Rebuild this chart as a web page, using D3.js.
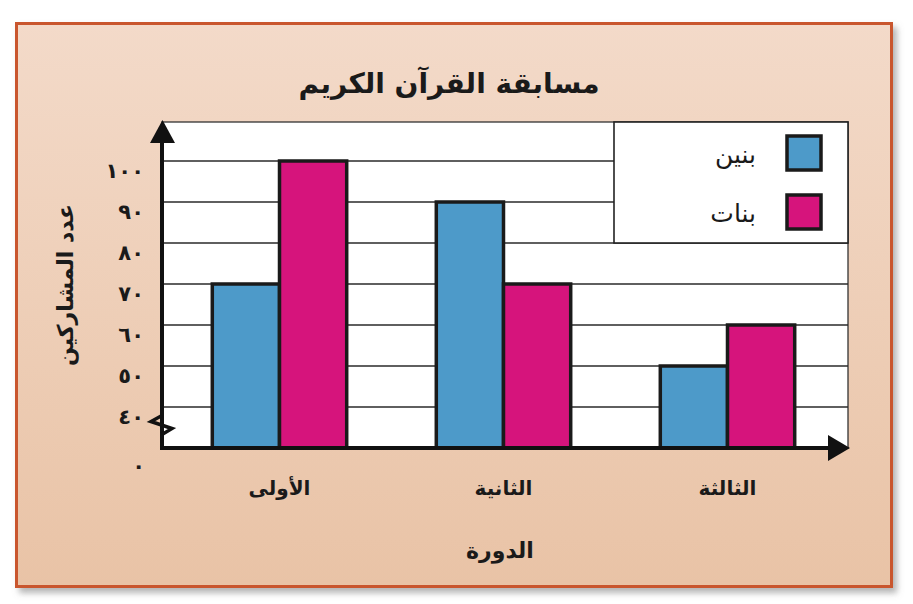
<!DOCTYPE html>
<html>
<head>
<meta charset="utf-8">
<script src="https://cdn.jsdelivr.net/npm/d3@7"></script>
<style>
  body { margin: 0; background: #fff; }
  text { font-family: "DejaVu Sans", sans-serif; fill: #1a1a1a; }
</style>
</head>
<body>
<svg id="chart" width="913" height="604"></svg>
<script>
// data
var categories = ['الأولى', 'الثانية', 'الثالثة'];
var seriesNames = ['بنين', 'بنات'];
var boys = [70, 90, 50];
var girls = [100, 70, 60];
var tickValues = [40, 50, 60, 70, 80, 90, 100];
var tickLabels = ['٤٠', '٥٠', '٦٠', '٧٠', '٨٠', '٩٠', '١٠٠'];
var zeroLabel = '٠';
var colors = ['#4d9ac9', '#d6147c'];

var svg = d3.select('#chart');

var plot = { left: 162, right: 848, top: 122, bottom: 448 };

var y = d3.scaleLinear().domain([30, 110]).range([plot.bottom, 120]);
var x0 = d3.scaleBand().domain(categories).range([167.5, 839.5])
    .paddingInner(0.4).paddingOuter(0.2);
var x1 = d3.scaleBand().domain([0, 1]).range([0, x0.bandwidth()]);

// frame
var defs = svg.append('defs');
var grad = defs.append('linearGradient').attr('id', 'bg')
    .attr('x1', 0).attr('y1', 0).attr('x2', 0).attr('y2', 1);
grad.append('stop').attr('offset', '0%').attr('stop-color', '#f3dac9');
grad.append('stop').attr('offset', '100%').attr('stop-color', '#e9c3a6');
var shadow = defs.append('filter').attr('id', 'shadow')
    .attr('x', '-5%').attr('y', '-5%').attr('width', '115%').attr('height', '115%');
shadow.append('feDropShadow').attr('dx', 4).attr('dy', 5).attr('stdDeviation', 3)
    .attr('flood-color', '#777').attr('flood-opacity', 0.55);

svg.append('rect')
    .attr('x', 16.5).attr('y', 23.5).attr('width', 875).attr('height', 563)
    .attr('fill', 'url(#bg)')
    .attr('stroke', '#c9562f').attr('stroke-width', 3)
    .attr('filter', 'url(#shadow)');

// title
svg.append('text')
    .attr('x', 449).attr('y', 83).attr('dy', '0.35em')
    .attr('text-anchor', 'middle')
    .style('font-size', '28px').style('font-weight', 'bold')
    .text('مسابقة القرآن الكريم');

// plot background
svg.append('rect')
    .attr('x', plot.left).attr('y', plot.top)
    .attr('width', plot.right - plot.left).attr('height', plot.bottom - plot.top)
    .attr('fill', '#fff').attr('stroke', '#333').attr('stroke-width', 1.3);

// gridlines
svg.append('g').selectAll('line')
    .data(tickValues)
    .enter()
    .append('line')
    .attr('x1', plot.left).attr('x2', plot.right)
    .attr('y1', function (d) { return y(d); })
    .attr('y2', function (d) { return y(d); })
    .attr('stroke', '#2a2a2a').attr('stroke-width', 1.6);

// legend box
var legend = svg.append('g');
legend.append('rect')
    .attr('x', 614).attr('y', plot.top).attr('width', plot.right - 614).attr('height', y(80) - plot.top)
    .attr('fill', '#fff').attr('stroke', '#222').attr('stroke-width', 1.6);
seriesNames.forEach(function (name, i) {
    legend.append('rect')
        .attr('x', 787).attr('y', 136 + i * 59).attr('width', 34).attr('height', 34)
        .attr('fill', colors[i]).attr('stroke', '#1a1a1a').attr('stroke-width', 3.5);
    legend.append('text')
        .attr('x', 756).attr('y', 154 + i * 59).attr('dy', '0.35em')
        .attr('text-anchor', 'end')
        .style('font-size', '25px')
        .text(name);
});

// bars
var rows = categories.map(function (c, i) { return { cat: c, values: [boys[i], girls[i]] }; });
var groups = svg.append('g').selectAll('g')
    .data(rows)
    .enter()
    .append('g')
    .attr('transform', function (d) { return 'translate(' + x0(d.cat) + ',0)'; });
groups.selectAll('rect')
    .data(function (d) { return d.values; })
    .enter()
    .append('rect')
    .attr('x', function (d, i) { return x1(i); })
    .attr('y', function (d) { return y(d); })
    .attr('width', x1.bandwidth())
    .attr('height', function (d) { return plot.bottom - y(d); })
    .attr('fill', function (d, i) { return colors[i]; })
    .attr('stroke', '#1a1a1a').attr('stroke-width', 3.5);

// y axis tick labels
var yAxis = svg.append('g')
    .attr('transform', 'translate(' + plot.left + ',0)')
    .call(d3.axisLeft(y).tickValues(tickValues)
        .tickFormat(function (d, i) { return tickLabels[i]; })
        .tickSize(0).tickPadding(18));
yAxis.select('.domain').remove();
yAxis.selectAll('text')
    .attr('dy', '0.8em')
    .style('font-size', '21px').style('font-weight', 'bold')
    .style('font-family', '"DejaVu Sans", sans-serif')
    .attr('fill', '#1a1a1a');
svg.append('text')
    .attr('x', 145).attr('y', 466).attr('dy', '0.35em')
    .attr('text-anchor', 'end')
    .style('font-size', '21px').style('font-weight', 'bold')
    .text(zeroLabel);

// x axis tick labels
var xAxis = svg.append('g')
    .attr('transform', 'translate(0,' + plot.bottom + ')')
    .call(d3.axisBottom(x0).tickSize(0));
xAxis.select('.domain').remove();
xAxis.selectAll('text')
    .attr('y', 40).attr('dy', '0.35em')
    .style('font-size', '20px').style('font-weight', 'bold')
    .style('font-family', '"DejaVu Sans", sans-serif')
    .attr('fill', '#1a1a1a');

// axis lines + arrows
svg.append('line')
    .attr('x1', plot.left).attr('x2', plot.left)
    .attr('y1', plot.bottom + 2).attr('y2', 140)
    .attr('stroke', '#111').attr('stroke-width', 4);
svg.append('path')
    .attr('d', 'M150,143 L175,143 L162.5,120 Z')
    .attr('fill', '#111');
svg.append('line')
    .attr('x1', plot.left - 2).attr('x2', 830)
    .attr('y1', plot.bottom).attr('y2', plot.bottom)
    .attr('stroke', '#111').attr('stroke-width', 4);
svg.append('path')
    .attr('d', 'M828,435 L828,461 L850,448 Z')
    .attr('fill', '#111');

// axis break
var yb = y(35);
svg.append('path')
    .attr('d', 'M162,' + (yb - 12) + ' L151,' + (yb - 6) + ' L172,' + (yb + 1) + ' L162,' + (yb + 7))
    .attr('fill', 'none').attr('stroke', '#111').attr('stroke-width', 3.5)
    .attr('stroke-linejoin', 'miter');

// axis titles
svg.append('text')
    .attr('transform', 'translate(65,285) rotate(-90)')
    .attr('dy', '0.35em')
    .attr('text-anchor', 'middle')
    .style('font-size', '22px').style('font-weight', 'bold')
    .text('عدد المشاركين');
svg.append('text')
    .attr('x', 500).attr('y', 550).attr('dy', '0.35em')
    .attr('text-anchor', 'middle')
    .style('font-size', '22px').style('font-weight', 'bold')
    .text('الدورة');
</script>
</body>
</html>
